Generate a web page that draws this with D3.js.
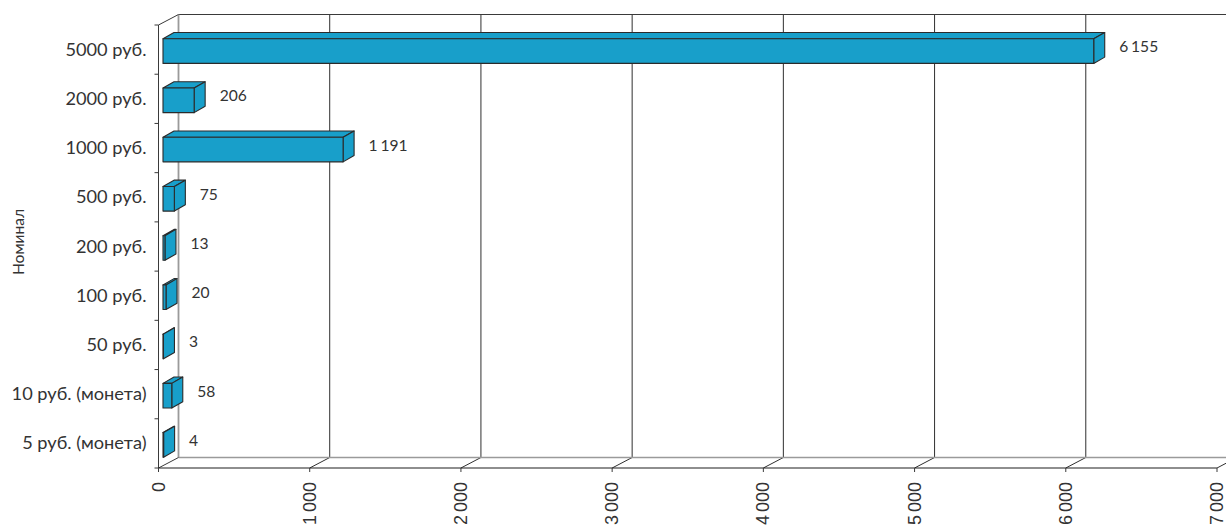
<!DOCTYPE html>
<html><head><meta charset="utf-8">
<script src="https://cdn.jsdelivr.net/npm/d3@7/dist/d3.min.js"></script>
<style>html,body{margin:0;padding:0;background:#fff;overflow:hidden}svg{display:block}</style>
</head><body><div id="chart"></div>
<script>
const categories = ["5000 руб.","2000 руб.","1000 руб.","500 руб.","200 руб.","100 руб.","50 руб.","10 руб. (монета)","5 руб. (монета)"];
const values = [6155,206,1191,75,13,20,3,58,4];
const valueLabels = ["6 155","206","1 191","75","13","20","3","58","4"];
const xTicks = [0,1000,2000,3000,4000,5000,6000,7000];
const xTickLabels = ["0","1 000","2 000","3 000","4 000","5 000","6 000","7 000"];
const axisTitle = "Номинал";

const W=1226,H=526, wallDx=20, wallDy=-10.5, barDx=11, barDy=-6.3;
const x=d3.scaleLinear().domain([0,7000]).range([158.5,1217]);
const y=d3.scaleBand().domain(categories).range([25,468]).paddingInner(0.5).paddingOuter(0.25);
const step=y.step();
const svg=d3.select("#chart").append("svg").attr("width",W).attr("height",H);
const dark="#2b2b2b", gray="#9a9a9a", txt="#333";
const line=(g,x1,y1,x2,y2,c,w)=>g.append("line").attr("x1",x1).attr("y1",y1).attr("x2",x2).attr("y2",y2).attr("stroke",c).attr("stroke-width",w||1);
const yTop=25,yBot=468,xb=x(0)+wallDx;

const grid=svg.append("g");
xTicks.slice(1).forEach(t=>{
  const gx=xb+(x(t)-x(0))*1.0;
  line(grid,gx,yTop+wallDy,gx,yBot+wallDy,"#2f2f2f",1);
  line(grid,gx,yBot+wallDy,x(t),yBot,"#2f2f2f",1);
});
line(grid,xb,yTop+wallDy,W,yTop+wallDy,"#3a3a3a",1);
line(grid,xb,yBot+wallDy,W,yBot+wallDy,gray,1.5);
line(grid,xb,yTop+wallDy,xb,yBot+wallDy,gray,1.8);
line(grid,x(0),yTop,xb,yTop+wallDy,"#3a3a3a",1);
line(grid,x(0),yBot,xb,yBot+wallDy,"#3a3a3a",1);
line(grid,x(0),yTop,x(0),yBot,"#3a3a3a",1);
line(grid,x(0),yBot,x(7000),yBot,"#1e1e1e",1.2);

d3.range(categories.length+1).forEach(i=>line(grid,x(0)-4,yTop+i*step,x(0),yTop+i*step,"#3a3a3a",1));
xTicks.forEach(t=>line(grid,x(t),yBot,x(t),yBot+4,"#3a3a3a",1));

svg.append("g").selectAll("text").data(categories).join("text")
  .attr("x",146.5).attr("y",d=>y(d)+y.bandwidth()/2-1)
  .attr("text-anchor","end").attr("dominant-baseline","central")
  .attr("font-family","Lato").attr("font-size",18.2).attr("fill",txt).text(d=>d);

svg.append("g").selectAll("text").data(xTicks).join("text")
  .attr("transform",(d)=>`translate(${x(d)},482) rotate(-90)`)
  .attr("text-anchor","end").attr("dominant-baseline","central")
  .attr("font-family","Liberation Sans").attr("font-size",18).attr("word-spacing",-2).attr("fill",txt)
  .text((d,i)=>xTickLabels[i]);

svg.append("text").attr("transform","translate(18,242) rotate(-90)")
  .attr("text-anchor","middle").attr("dominant-baseline","central")
  .attr("font-family","Lato").attr("font-size",15.6).attr("fill",txt).text(axisTitle);

const bx0=163, blue="#189fca", sc=d3.scaleLinear().domain([0,7000]).range([0,x(7000)-x(0)]);
const bars=svg.append("g").selectAll("g").data(categories).join("g")
 .attr("stroke",dark).attr("stroke-width",1.1).attr("stroke-linejoin","round").attr("fill",blue);
bars.each(function(d,i){
  const g=d3.select(this), w=sc(values[i]), yt=y(d)+1.5, h=y.bandwidth();
  g.append("path").attr("d",`M${bx0},${yt}l${barDx},${barDy}h${w}l${-barDx},${-barDy}z`);
  g.append("path").attr("d",`M${bx0+w},${yt}l${barDx},${barDy}v${h}l${-barDx},${-barDy}z`);
  g.append("rect").attr("x",bx0).attr("y",yt).attr("width",w).attr("height",h);
});

svg.append("g").selectAll("text").data(categories).join("text")
  .attr("x",(d,i)=>bx0+sc(values[i])+barDx+14.5)
  .attr("y",d=>y(d)+y.bandwidth()/2-3.5)
  .attr("dominant-baseline","central")
  .attr("font-family","Lato").attr("font-size",15.6).attr("word-spacing",-1.2).attr("fill",txt)
  .text((d,i)=>valueLabels[i]);
</script></body></html>
